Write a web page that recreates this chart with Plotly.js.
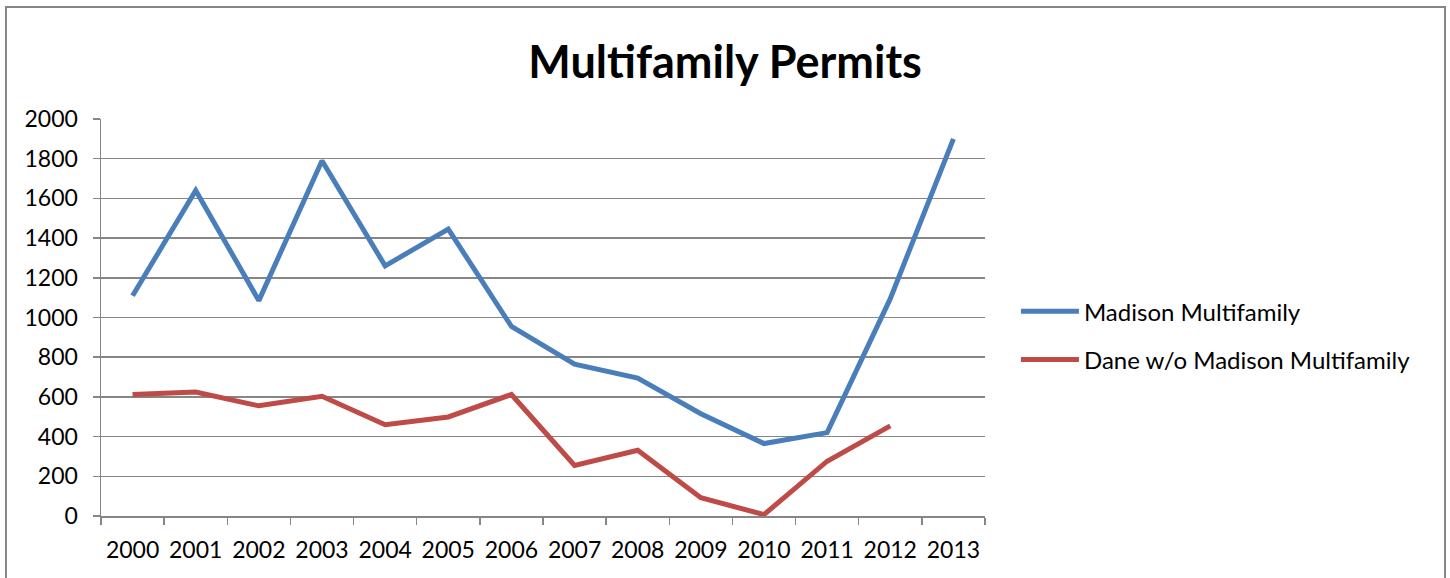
<!DOCTYPE html>
<html>
<head>
<meta charset="utf-8">
<script src="https://cdn.plot.ly/plotly-3.0.1.min.js"></script>
<style>
html, body { margin: 0; padding: 0; background: #fff; }
#chart { width: 1450px; height: 578px; }
</style>
</head>
<body>
<div id="chart"></div>
<script>
const years = ['2000','2001','2002','2003','2004','2005','2006','2007','2008','2009','2010','2011','2012','2013'];
const madison = [1110, 1640, 1085, 1790, 1260, 1445, 955, 765, 695, 515, 365, 420, 1095, 1900];
const daneWoMadison = [612, 625, 555, 603, 460, 499, 612, 255, 331, 92, 7, 276, 454, null];
const seriesNames = ['Madison Multifamily', 'Dane w/o Madison Multifamily'];
const chartTitle = 'Multifamily Permits';

const FONT = 'Lato, "Open Sans", sans-serif';
const GRID = '#868686';

const traces = [
  { x: years, y: madison, name: seriesNames[0], type: 'scatter', mode: 'lines',
    line: { color: '#4A7EBB', width: 5 }, legendgroup: 'a', connectgaps: false },
  { x: years, y: daneWoMadison, name: seriesNames[1], type: 'scatter', mode: 'lines',
    line: { color: '#BE4B48', width: 5 }, legendgroup: 'b', connectgaps: false }
];

const layout = {
  width: 1450, height: 578,
  margin: { l: 101, r: 465, t: 119, b: 62, pad: 0 },
  paper_bgcolor: '#fff', plot_bgcolor: '#fff',
  font: { family: FONT, color: '#000', size: 23 },
  title: { text: '<b>' + chartTitle + '</b>', font: { family: FONT, size: 45, color: '#000' },
           x: 0.706, xref: 'paper', xanchor: 'center', y: 0.893, yref: 'container', yanchor: 'middle' },
  xaxis: { type: 'category', range: [-0.5, 13.5], showgrid: false, zeroline: false,
           showline: true, linecolor: GRID, linewidth: 1.5,
           ticks: 'outside', tickson: 'boundaries', ticklen: 7, tickcolor: GRID, tickwidth: 1.5,
           ticklabelstandoff: 13, tickfont: { family: FONT, size: 23, color: '#000' }, fixedrange: true },
  yaxis: { range: [0, 2000], dtick: 200, tick0: 0, showgrid: true, gridcolor: GRID, gridwidth: 1.5,
           zeroline: false, showline: true, linecolor: GRID, linewidth: 1.5,
           ticks: 'outside', ticklen: 7, tickcolor: GRID, tickwidth: 1.5,
           ticklabelstandoff: 10, tickfont: { family: FONT, size: 23, color: '#000' }, fixedrange: true },
  showlegend: true,
  legend: { x: 1.035, y: 0.454, xanchor: 'left', yanchor: 'middle', bgcolor: 'rgba(0,0,0,0)',
            traceorder: 'grouped', tracegroupgap: 14, itemwidth: 58,
            font: { family: FONT, size: 24, color: '#000' } },
  shapes: [
    { type: 'rect', xref: 'paper', yref: 'paper', x0: -0.1075, x1: 1.5204, y0: -0.3, y1: 1.2821,
      line: { color: GRID, width: 2 }, fillcolor: 'rgba(0,0,0,0)', layer: 'below' }
  ]
};

Plotly.newPlot('chart', traces, layout, { displayModeBar: false, staticPlot: true });
</script>
</body>
</html>
